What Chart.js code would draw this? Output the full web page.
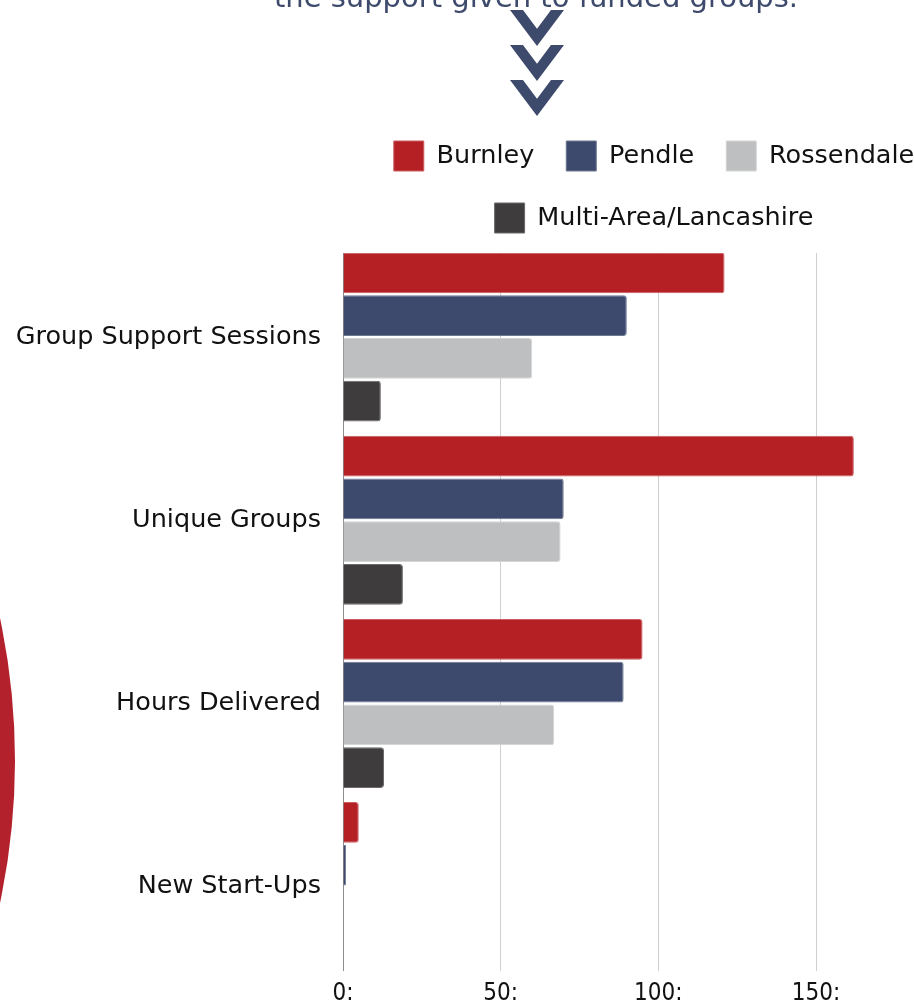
<!DOCTYPE html>
<html>
<head>
<meta charset="utf-8">
<script src="https://cdn.jsdelivr.net/npm/chart.js@4/dist/chart.umd.min.js"></script>
<style>
  html, body { margin: 0; padding: 0; background: #ffffff; }
  body { width: 914px; height: 1008px; overflow: hidden; position: relative; font-family: "DejaVu Sans", sans-serif; }
  .disc { position: absolute; left: -1354px; top: 76px; width: 1369px; height: 1369px; border-radius: 50%; background: #b3222c; }
  #chart { position: absolute; left: 0; top: 0; }
  .intro { position: absolute; left: 0; top: 0; }
</style>
</head>
<body>
<div class="disc"></div>
<canvas id="chart" width="914" height="1008"></canvas>
<svg class="intro" width="914" height="125" viewBox="0 0 914 125">
  <text x="536" y="7" text-anchor="middle" font-family="DejaVu Sans" font-size="29" fill="#3d4a6b">the support given to funded groups.</text>
  <g fill="#3d4a6b">
    <polygon points="510,10 523,10 537,28.7 551,10 564,10 537,46"/>
    <polygon points="510,45 523,45 537,63.7 551,45 564,45 537,81"/>
    <polygon points="510,80 523,80 537,98.7 551,80 564,80 537,116"/>
  </g>
</svg>
<script>
// Activity measures, one row per measure
const categories = ['Group Support Sessions', 'Unique Groups', 'Hours Delivered', 'New Start-Ups'];
// Areas, one series per area
const areas = ['Burnley', 'Pendle', 'Rossendale', 'Multi-Area/Lancashire'];
const burnley = [121, 162, 95, 5];
const pendle = [90, 70, 89, 1];
const rossendale = [60, 69, 67, 0];
const multiArea = [12, 19, 13, 0];
const xTicks = [0, 50, 100, 150];

const series = [burnley, pendle, rossendale, multiArea];
const fills = ['#b52025', '#3e4a6d', '#bebfc1', '#3e3c3d'];
const edges = ['#cc5d62', '#6f7893', '#d4d5d6', '#6b696a'];

const labelFont = { family: '"DejaVu Sans", "Verdana", sans-serif', size: 25.5 };
const tickFont = { family: '"DejaVu Sans Condensed", "DejaVu Sans", sans-serif', size: 24 };

// Moves the legend block so it is centred on a chosen x position
const legendOffset = {
  id: 'legendOffset',
  afterLayout(chart, args, opts) {
    const lg = chart.legend;
    if (!lg) return;
    const dx = opts.centerX - (lg.left + lg.right) / 2;
    lg.left += dx;
    lg.right += dx;
  }
};

new Chart(document.getElementById('chart'), {
  type: 'bar',
  data: {
    datasets: series.map((vals, k) => ({
      label: areas[k],
      data: vals.map((v, i) => ({ x: v, y: i })),
      xAxisID: 'x',
      yAxisID: 'y',
      backgroundColor: fills[k],
      borderColor: edges[k],
      borderWidth: 1,
      borderRadius: 3,
      categoryPercentage: 0.934,
      barPercentage: 0.953
    }))
  },
  options: {
    indexAxis: 'y',
    responsive: false,
    animation: false,
    layout: { padding: { top: 109, left: 0, right: 3.4, bottom: 0 } },
    plugins: {
      legendOffset: { centerX: 654 },
      legend: {
        position: 'top',
        align: 'center',
        labels: {
          boxWidth: 30,
          boxHeight: 30,
          padding: 32,
          color: '#111111',
          font: labelFont
        }
      },
      tooltip: { enabled: false }
    },
    scales: {
      x: {
        type: 'linear',
        position: 'bottom',
        min: 0,
        max: 180,
        offset: false,
        afterBuildTicks: s => { s.ticks = xTicks.map(v => ({ value: v })); },
        afterFit: s => { s.height = 37; },
        grid: { color: '#cfcfcf', lineWidth: 1, drawTicks: false },
        border: { display: false },
        ticks: {
          padding: 9,
          color: '#111111',
          font: tickFont,
          maxRotation: 0,
          autoSkip: false,
          callback: v => v + ':'
        }
      },
      gap: {
        type: 'linear',
        position: 'top',
        display: true,
        grid: { display: false, drawTicks: false },
        ticks: { display: false },
        border: { display: false },
        afterFit: s => { s.height = 10; }
      },
      y: {
        type: 'linear',
        reverse: true,
        offset: false,
        min: -0.459,
        max: 3.459,
        afterBuildTicks: s => { s.ticks = categories.map((c, i) => ({ value: i })); },
        afterFit: s => { s.width = 343; },
        grid: { display: false, drawTicks: false, offset: false },
        border: { display: true, color: '#8d8d8d', width: 1 },
        ticks: {
          padding: 22,
          color: '#111111',
          font: labelFont,
          autoSkip: false,
          callback: v => categories[v]
        }
      }
    }
  },
  plugins: [legendOffset]
});
</script>
</body>
</html>
